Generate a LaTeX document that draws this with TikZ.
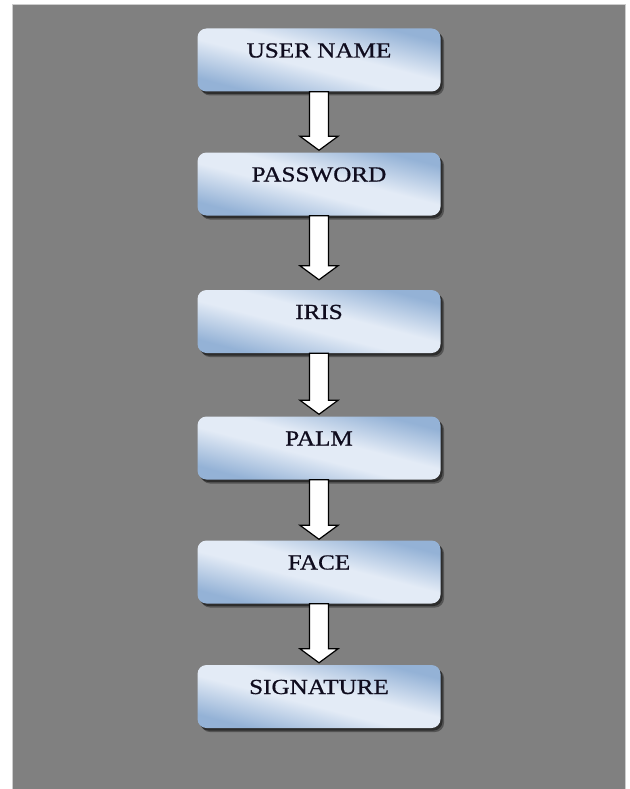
\documentclass[tikz,border=0pt]{standalone}
\usepackage{fontspec}
\setmainfont{Liberation Serif}
\newfontfamily\boxfont[FakeBold=0.7]{Liberation Serif}
\usetikzlibrary{calc}
\definecolor{bg}{RGB}{128,128,128}
\definecolor{bgedge}{RGB}{205,205,205}
\definecolor{boxlight}{RGB}{227,235,246}
\definecolor{boxblue}{RGB}{148,178,214}
\definecolor{boxtext}{RGB}{15,12,30}
\pgfdeclarehorizontalshading{boxshade}{100bp}{color(0bp)=(boxblue); color(26bp)=(boxblue); color(31bp)=(boxblue); color(46bp)=(boxlight); color(54bp)=(boxlight); color(69bp)=(boxblue); color(74bp)=(boxblue); color(100bp)=(boxblue)}
\newcommand\lbl[1]{\scalebox{1.17}[1]{#1}}
% #1 name, #2 centre, #3 text
\newcommand\stepnode[3]{%
  \fill[boxshadow, opacity=0.35] ($(#2)+(-118,-35.5)$) rectangle ++(243,63);
  \fill[boxshadow, opacity=0.45] ($(#2)+(-119.5,-34)$) rectangle ++(243,63);
  \begin{scope}
    \clip[rounded corners=9pt] ($(#2)+(-121.5,-31.5)$) rectangle ++(243,63);
    \shade[shading=boxshade, transform canvas={shift={(#2)}, xslant=-3.857}]
      (-250,-40) rectangle (250,40);
  \end{scope}
  \node[stepbox] (#1) at (#2) {\lbl{#3}};}
\newcommand\flowarrow[3]{%
  \draw[blockarrow] let \p1=(#1.south), \p2=(#2.north) in
    (\x1-9.5pt,\y1) -- (\x1-9.5pt,\y2+#3pt+14pt) -- (\x1-19pt,\y2+#3pt+14pt)
    -- (\x1,\y2+#3pt) -- (\x1+19pt,\y2+#3pt+14pt) -- (\x1+9.5pt,\y2+#3pt+14pt)
    -- (\x1+9.5pt,\y1) -- cycle;}
\tikzset{
  boxshadow/.style={fill=black, rounded corners=9pt},
  stepbox/.style={rounded corners=9pt, minimum width=243pt, inner sep=0pt,
    text height=29pt, text depth=34pt, text=boxtext,
    font=\boxfont\fontsize{21.5}{24}\selectfont},
  blockarrow/.style={draw=black, fill=white, line width=1.2pt, line join=miter}
}
\begin{document}
\begin{tikzpicture}[x=1pt,y=1pt]
\useasboundingbox (0,0) rectangle (629,-789);
\fill[bg] (12,-4) rectangle (626,-789);
\draw[bgedge, line width=0.8pt] (12.4,-789) -- (12.4,-4.4) -- (625.6,-4.4) -- (625.6,-789);
\stepnode{user}{319,-60}{USER NAME}
\stepnode{pass}{319,-184}{PASSWORD}
\stepnode{iris}{319,-321.5}{IRIS}
\stepnode{palm}{319,-448}{PALM}
\stepnode{face}{319,-572}{FACE}
\stepnode{sign}{319,-696.5}{SIGNATURE}
\flowarrow{user}{pass}{2}
\flowarrow{pass}{iris}{10}
\flowarrow{iris}{palm}{2}
\flowarrow{palm}{face}{1}
\flowarrow{face}{sign}{2}
\end{tikzpicture}
\end{document}
